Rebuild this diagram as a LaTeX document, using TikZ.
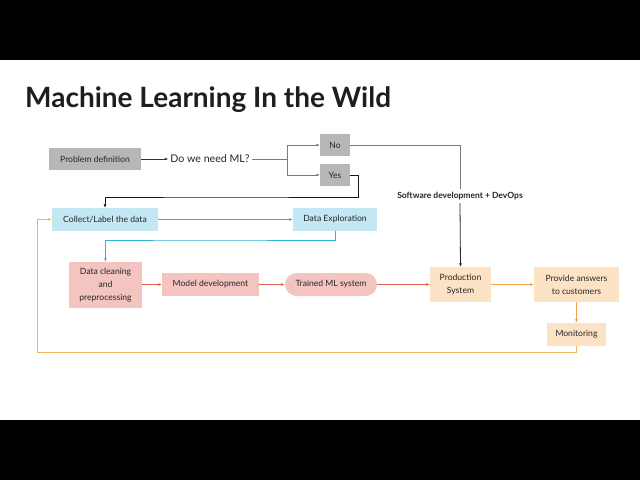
\documentclass[tikz,border=0pt]{standalone}
\usepackage{fontspec}
\setmainfont{Lato}
\usetikzlibrary{arrows.meta}
\definecolor{boxgray}{HTML}{B7B7B7}
\definecolor{boxblue}{HTML}{C3E8F4}
\definecolor{boxpink}{HTML}{F4C4C0}
\definecolor{boxpeach}{HTML}{FCE3C6}
\definecolor{lgray}{HTML}{7A7A7A}
\definecolor{lcyan}{HTML}{2EB5D3}
\definecolor{lred}{HTML}{E0604E}
\definecolor{lorange}{HTML}{F0A040}
\definecolor{lyellow}{HTML}{F0B858}
\definecolor{titlec}{HTML}{1C1E21}
\begin{document}
\begin{tikzpicture}[x=1pt,y=-1pt,
  box/.style={inner sep=0pt,align=center,font=\fontsize{8.6}{12}\selectfont,text=black!85},
  graybox/.style={box,fill=boxgray},
  bluebox/.style={box,fill=boxblue},
  pinkbox/.style={box,fill=boxpink},
  peachbox/.style={box,fill=boxpeach},
  arr/.style={-{Latex[length=3.5pt,width=3pt]},line width=0.8pt},
  plain/.style={line width=0.8pt}]
\useasboundingbox (0,0) rectangle (640,480);
\fill[black] (0,0) rectangle (640,60);
\fill[white] (0,60) rectangle (640,420);
\fill[black] (0,420) rectangle (640,480);
\node[anchor=base west,inner sep=0pt,font=\fontsize{28}{30}\selectfont\bfseries,text=titlec] (title) at (25,107) {Machine Learning In the Wild};

% nodes
\node[graybox,minimum width=92,minimum height=22] (pd) at (95,159) {Problem definition};
\node[box,font=\fontsize{10.6}{12}\selectfont,inner sep=2pt] (ml) at (210,159) {Do we need ML?};
\coordinate (split) at (287,159);
\node[graybox,minimum width=30,minimum height=22] (no) at (335,145) {No};
\node[graybox,minimum width=30,minimum height=22] (yes) at (335,175) {Yes};
\node[box,font=\fontsize{8.5}{9}\selectfont\bfseries,fill=white,inner sep=3pt] (sw) at (460,196) {Software development + DevOps};

\node[bluebox,minimum width=106,minimum height=23] (col) at (105,219.5) {Collect/Label the data};
\node[bluebox,minimum width=84,minimum height=23] (exp) at (335,219.5) {Data Exploration};

\node[pinkbox,minimum width=73,minimum height=46,font=\fontsize{8.6}{13}\selectfont] (clean) at (105.5,285) {Data cleaning\\and\\preprocessing};
\node[pinkbox,minimum width=97,minimum height=23] (model) at (210.5,284.5) {Model development};
\node[pinkbox,minimum width=92,minimum height=23,rounded corners=11.5pt] (trained) at (331,284.5) {Trained ML system};

\node[peachbox,minimum width=61,minimum height=35,font=\fontsize{8.6}{13}\selectfont] (prod) at (460.5,284.5) {Production\\System};
\node[peachbox,minimum width=85,minimum height=35,font=\fontsize{8.6}{13}\selectfont] (ans) at (576.5,284.5) {Provide answers\\to customers};
\node[peachbox,minimum width=59,minimum height=23] (mon) at (576.5,334.5) {Monitoring};

% connectors
\draw[arr,black!80] (pd) -- (ml);
\draw[plain,lgray] (ml) -- (split);
\draw[arr,lgray] (split) |- (no);
\draw[arr,lgray] (split) |- (yes);
\draw[plain,lgray] (no.east) -| (sw.north);
\draw[arr,black!85] (sw.south) -- (prod.north);
\draw[arr,black!90] (yes.east) -- ++(8,0) |- (220,197) -| (col.north);

\draw[arr,lcyan] (col) -- (exp);
\draw[arr,lcyan] (exp.south) |- (200,240) -| (clean.north);

\draw[arr,lred] (clean.east |- model) -- (model);
\draw[arr,lred] (model) -- (trained);
\draw[arr,lred] (trained) -- (prod);

\draw[arr,lorange] (prod) -- (ans);
\draw[arr,lorange] (ans) -- (mon);
\draw[arr,lyellow] (mon.south) |- (37,352) |- (col.west);
\end{tikzpicture}
\end{document}
